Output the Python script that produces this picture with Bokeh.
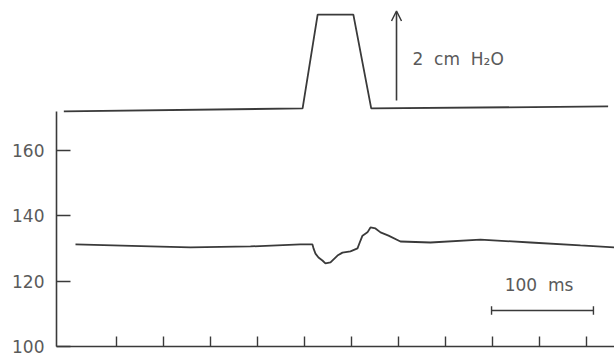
from bokeh.plotting import figure
from bokeh.models import Range1d, Arrow, OpenHead, FixedTicker
from bokeh.embed import file_html
from bokeh.resources import INLINE
from bokeh.core.properties import value

# Upper trace: airway pressure pulse (drawn above the axis)
pressure_t = [-56, 198, 214, 252, 271, 523]
pressure_v = [171.9, 172.8, 201.5, 201.5, 172.8, 173.4]

# Lower trace: blood pressure (mmHg) vs time (ms)
bp_t = [-43.6, 36.2, 78.7, 142.6, 195.7, 208.5, 209.6, 211.7, 214.9, 219.1,
        222.3, 227.7, 235.1, 240.4, 248.9, 256.4, 259.6, 261.7, 267.0, 270.2,
        275.5, 280.9, 289.4, 302.1, 334.0, 387.2, 440.4, 493.6, 529.8]
bp_v = [131.2, 130.6, 130.3, 130.6, 131.2, 131.2, 130.0, 128.4, 127.2, 126.3,
        125.4, 125.7, 127.8, 128.7, 129.1, 130.0, 132.4, 133.9, 134.9, 136.4,
        136.1, 134.9, 133.9, 132.1, 131.8, 132.7, 131.8, 130.9, 130.3]

y_ticks = [100, 120, 140, 160]
x_ticks = [0, 50, 100, 150, 200, 250, 300, 350, 400, 450, 500]

# calibration marks
arrow_t = 297.9
arrow_v = [175.2, 202.6]
arrow_label = "2\u00a0\u00a0cm\u00a0\u00a0H\u2082O"
bar_t = [399.0, 507.4]
bar_v = 111.0
bar_label = "100\u00a0\u00a0ms"

LINE = "#3a3a3a"
TEXT = "#5a5a5a"
FONT = "DejaVu Sans"

p = figure(width=614, height=356, output_backend="svg", toolbar_location=None,
           x_range=Range1d(-63.8, 529.8), y_range=Range1d(100, 205.8),
           min_border_left=56, min_border_right=0, min_border_top=0,
           min_border_bottom=10)
p.outline_line_color = None
p.xgrid.visible = False
p.ygrid.visible = False
p.background_fill_color = "white"
p.border_fill_color = "white"

# y axis
p.yaxis.ticker = FixedTicker(ticks=y_ticks)
p.yaxis.bounds = (100, 172)
p.yaxis.axis_line_color = LINE
p.yaxis.axis_line_width = 1.6
p.yaxis.major_tick_line_color = LINE
p.yaxis.major_tick_line_width = 1.4
p.yaxis.major_tick_in = 14
p.yaxis.major_tick_out = 0
p.yaxis.minor_tick_line_color = None
p.yaxis.major_label_text_font = FONT
p.yaxis.major_label_text_font_size = "17px"
p.yaxis.major_label_text_color = TEXT
p.yaxis.major_label_standoff = 12

# x axis (ticks only, no labels)
p.xaxis.ticker = FixedTicker(ticks=x_ticks)
p.xaxis.axis_line_color = LINE
p.xaxis.axis_line_width = 1.6
p.xaxis.major_tick_line_color = LINE
p.xaxis.major_tick_line_width = 1.4
p.xaxis.major_tick_in = 10
p.xaxis.major_tick_out = 0
p.xaxis.minor_tick_line_color = None
p.xaxis.major_label_overrides = {t: "" for t in x_ticks}
p.xaxis.major_label_standoff = 0

# traces
p.line(pressure_t, pressure_v, line_color=LINE, line_width=1.8)
p.line(bp_t, bp_v, line_color=LINE, line_width=1.8)

# calibration arrow
p.add_layout(Arrow(end=OpenHead(size=10, line_color=LINE, line_width=1.5),
                   x_start=arrow_t, y_start=arrow_v[0],
                   x_end=arrow_t, y_end=arrow_v[1],
                   line_color=LINE, line_width=1.6))
p.text(x=[arrow_t + 17], y=[188.0], text=[arrow_label],
       text_font=value(FONT), text_font_size="17px", text_color=TEXT,
       text_align="left", text_baseline="middle")

# time scale bar
cap = 1.3
p.segment(x0=[bar_t[0]], y0=[bar_v], x1=[bar_t[1]], y1=[bar_v],
          line_color=LINE, line_width=1.4)
p.segment(x0=bar_t, y0=[bar_v - cap] * 2, x1=bar_t, y1=[bar_v + cap] * 2,
          line_color=LINE, line_width=1.4)
p.text(x=[bar_t[0] + 14], y=[bar_v + 7.7], text=[bar_label],
       text_font=value(FONT), text_font_size="17px", text_color=TEXT,
       text_align="left", text_baseline="middle")

open("out.html", "w").write(file_html(p, INLINE))
